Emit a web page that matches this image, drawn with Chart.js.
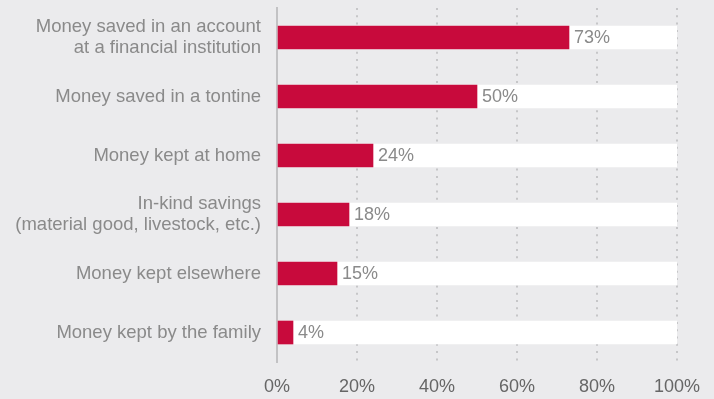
<!DOCTYPE html>
<html>
<head>
<meta charset="utf-8">
<script src="https://cdn.jsdelivr.net/npm/chart.js@4/dist/chart.umd.min.js"></script>
<style>
  html, body { margin: 0; padding: 0; background: #ebebed; }
  #wrap { width: 714px; height: 399px; }
</style>
</head>
<body>
<div id="wrap"><canvas id="graph" width="714" height="399"></canvas></div>
<script>
// categories (multi-line labels as arrays)
var categories = [
  ['Money saved in an account', 'at a financial institution'],
  'Money saved in a tontine',
  'Money kept at home',
  ['In-kind savings', '(material good, livestock, etc.)'],
  'Money kept elsewhere',
  'Money kept by the family'
];
// share of respondents (%)
var shares = [73, 50, 24, 18, 15, 4];
// full-scale track behind each bar
var track = [100, 100, 100, 100, 100, 100];
// x axis ticks
var tickValues = [0, 20, 40, 60, 80, 100];

var FONT = '"Liberation Sans", Arial, Helvetica, sans-serif';

// value text at the end of each red bar
var valueLabels = {
  id: 'valueLabels',
  afterDatasetsDraw: function (chart) {
    var ctx = chart.ctx;
    var meta = chart.getDatasetMeta(0);
    ctx.save();
    ctx.font = '18px ' + FONT;
    ctx.fillStyle = '#8a8a8a';
    ctx.textAlign = 'left';
    ctx.textBaseline = 'middle';
    meta.data.forEach(function (bar, i) {
      ctx.fillText(shares[i] + '%', bar.x + 5, bar.y + 1);
    });
    ctx.restore();
  }
};

var ctx = document.getElementById('graph').getContext('2d');
new Chart(ctx, {
  type: 'bar',
  data: {
    labels: categories,
    datasets: [
      {
        data: shares,
        backgroundColor: '#c80a3c',
        grouped: false,
        barThickness: 23
      },
      {
        data: track,
        backgroundColor: '#ffffff',
        grouped: false,
        barThickness: 23
      }
    ]
  },
  options: {
    indexAxis: 'y',
    responsive: false,
    animation: false,
    layout: { padding: { top: 8, right: 37, bottom: 0, left: 0 } },
    plugins: {
      legend: { display: false },
      tooltip: { enabled: false }
    },
    scales: {
      x: {
        min: 0,
        max: 100,
        afterBuildTicks: function (scale) {
          scale.ticks = tickValues.map(function (v) { return { value: v }; });
        },
        afterFit: function (scale) { scale.height = 37; },
        ticks: {
          padding: 14,
          color: '#666666',
          font: { family: FONT, size: 18 },
          callback: function (v) { return v + '%'; }
        },
        grid: {
          drawTicks: false,
          lineWidth: 2,
          color: function (c) { return c.index === 0 ? 'rgba(0,0,0,0)' : '#c6c6c8'; }
        },
        border: { display: false, dash: [2, 5.3] }
      },
      y: {
        afterFit: function (scale) {
          scale.width = 277;
          // keep the two-line first label from pushing the plot down
          scale.paddingTop = 0;
          scale.paddingBottom = 0;
        },
        ticks: {
          padding: 16,
          color: '#8a8a8a',
          font: { family: FONT, size: 18.5, lineHeight: 1.15 }
        },
        grid: { display: false, drawTicks: false },
        border: { display: true, color: '#c2c2c4', width: 2 }
      }
    }
  },
  plugins: [valueLabels]
});
</script>
</body>
</html>
